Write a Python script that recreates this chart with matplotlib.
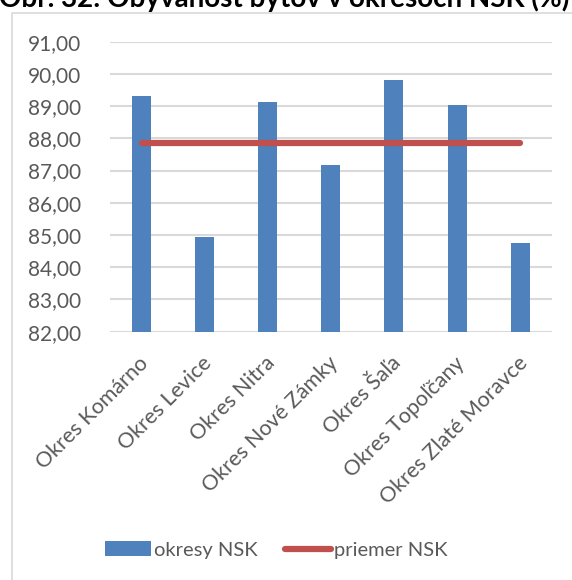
import matplotlib
matplotlib.use("Agg")
import matplotlib.pyplot as plt
import matplotlib.transforms as mtransforms
from matplotlib.patches import Rectangle
from matplotlib.lines import Line2D
from matplotlib.patches import Patch

categories = ["Okres Komárno", "Okres Levice", "Okres Nitra", "Okres Nové Zámky",
              "Okres Šaľa", "Okres Topoľčany", "Okres Zlaté Moravce"]
okresy = [89.33, 84.95, 89.12, 87.18, 89.80, 89.05, 84.75]
priemer = [87.85] * 7
yticks = [82, 83, 84, 85, 86, 87, 88, 89, 90, 91]
ytick_labels = ["82,00", "83,00", "84,00", "85,00", "86,00", "87,00", "88,00",
                "89,00", "90,00", "91,00"]
title = "Obr. 32: Obývanosť bytov v okresoch NSK (%)"

plt.rcParams['font.family'] = ['Lato', 'DejaVu Sans']
W, H = 572, 580
fig = plt.figure(figsize=(W / 100, H / 100), dpi=100)

# chart border
fig.patches.append(Rectangle((12 / W, -0.1), 1.2, (H - 13) / H + 0.1,
                             transform=fig.transFigure, fill=False,
                             edgecolor="#D9D9D9", linewidth=1.2))

fig.text(569 / W, 1 - 7.5 / H, title, ha="right", va="baseline",
         fontsize=20, fontweight="bold", color="black")

ax = fig.add_axes([110 / W, 1 - 331.7 / H, 441.7 / W, 290 / H])
x = list(range(len(categories)))
ax.bar(x, okresy, width=0.30, color="#4F81BD", zorder=2, bottom=0)
ax.plot(x, priemer, color="#C0504D", linewidth=4.5, solid_capstyle="round", zorder=3)
ax.set_ylim(82, 91)
ax.set_xlim(-0.5, len(categories) - 0.5)
ax.set_yticks(yticks)
ax.set_yticklabels(ytick_labels)
ax.yaxis.grid(True, color="#D9D9D9", linewidth=1.5, zorder=0)
ax.set_axisbelow(True)
for s in ax.spines.values():
    s.set_visible(False)
ax.tick_params(axis="both", length=0, colors="#595959")
ax.tick_params(axis="y", pad=21, labelsize=15)
ax.set_xticks(x)
ax.set_xticklabels(categories, rotation=45, ha="right", rotation_mode="anchor")
ax.tick_params(axis="x", pad=6, labelsize=15.5)
offset = mtransforms.ScaledTranslation(-3 / 100, -13 / 100, fig.dpi_scale_trans)
for lbl in ax.get_xticklabels():
    lbl.set_transform(lbl.get_transform() + offset)

handles = [Patch(facecolor="#4F81BD", edgecolor="none"),
           Line2D([0], [0], color="#C0504D", linewidth=4.5, solid_capstyle="round")]
fig.legend(handles, ["okresy NSK", "priemer NSK"], loc="center",
           bbox_to_anchor=(276 / W, 1 - 550 / H), ncol=2, frameon=False,
           fontsize=14.5, labelcolor="#595959", handlelength=2.3,
           handleheight=0.75, handletextpad=0.15, columnspacing=1.35)

fig.savefig("out.png", dpi=100)
